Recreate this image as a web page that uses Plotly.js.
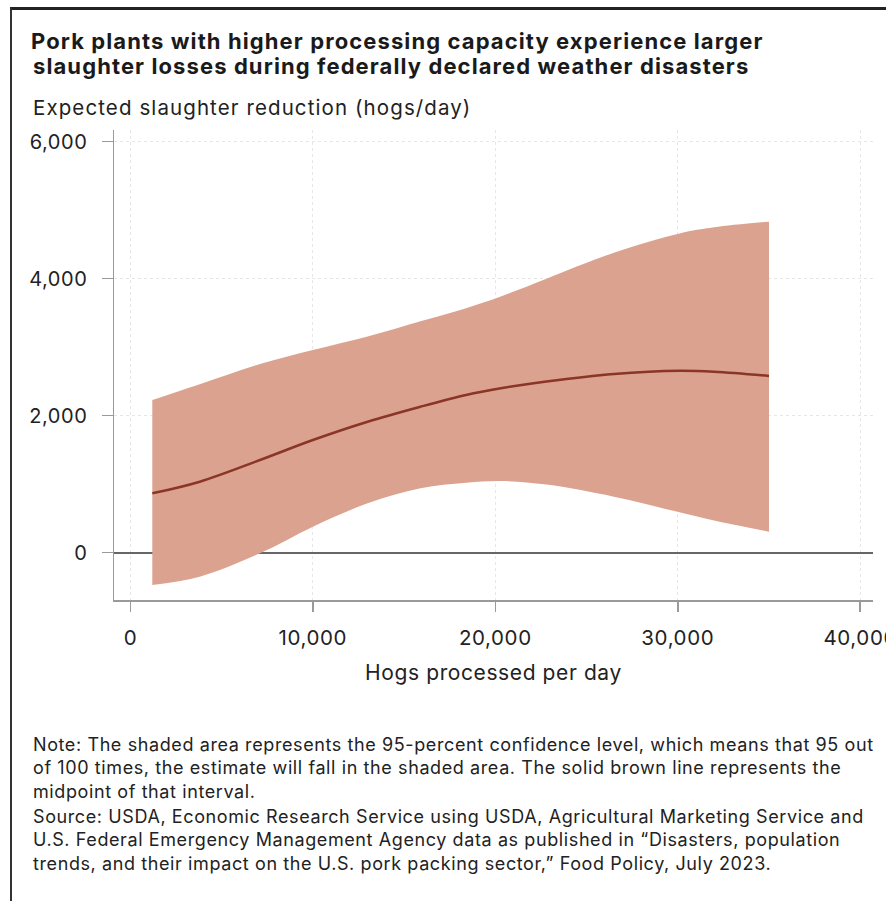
<!DOCTYPE html>
<html>
<head>
<meta charset="utf-8">
<script src="https://cdn.plot.ly/plotly-3.0.1.min.js"></script>
<style>
  html, body { margin: 0; padding: 0; background: #fff; }
  #wrap { position: relative; width: 886px; height: 901px; overflow: hidden; }
  #chart { width: 886px; height: 901px; }
  #frame { position: absolute; left: 10px; top: 7px; width: 876px; height: 894px;
           border-top: 3px solid #222; border-left: 2px solid #333; pointer-events: none; box-sizing: border-box; }
  #chart .gtitle { letter-spacing: 1.1px; }
  #chart g.annotation[data-index="0"] text { letter-spacing: 1.1px; }
  #chart g.annotation[data-index="1"] text { letter-spacing: 1.1px; }
  #chart g.annotation[data-index="2"] text,
  #chart g.annotation[data-index="3"] text { letter-spacing: 0.6px; }
  #chart .xtick text, #chart .ytick text { letter-spacing: 0.6px; }
  #chart .g-xtitle text { letter-spacing: 0.6px; }
</style>
</head>
<body>
<div id="wrap">
  <div id="chart"></div>
  <div id="frame"></div>
</div>
<script>
// Hogs processed per day (x)
const hogsPerDay = [1200, 3800, 7100, 10000, 13000, 15900, 18400, 20300, 22800, 26500, 30100, 32000, 35000];
// Upper bound of 95% confidence interval
const upperCI = [2229, 2460, 2755, 2959, 3157, 3380, 3570, 3740, 4000, 4380, 4661, 4750, 4832];
// Lower bound of 95% confidence interval
const lowerCI = [-472, -350, -9, 380, 721, 940, 1022, 1047, 995, 818, 590, 470, 307];
// Midpoint estimate
const midpoint = [867, 1037, 1353, 1645, 1912, 2131, 2302, 2400, 2500, 2610, 2657, 2642, 2580];

const xTicks = [0, 10000, 20000, 30000, 40000];
const xTickText = ["0", "10,000", "20,000", "30,000", "40,000"];
const yTicks = [0, 2000, 4000, 6000];
const yTickText = ["0", "2,000", "4,000", "6,000"];

const titleLines = [
  "Pork plants with higher processing capacity experience larger",
  "slaughter losses during federally declared weather disasters"
];
const yLabel = "Expected slaughter reduction (hogs/day)";
const xLabel = "Hogs processed per day";
const noteText = "Note: The shaded area represents the 95-percent confidence level, which means that 95 out<br>of 100 times, the estimate will fall in the shaded area. The solid brown line represents the<br>midpoint of that interval.";
const sourceText = "Source: USDA, Economic Research Service using USDA, Agricultural Marketing Service and<br>U.S. Federal Emergency Management Agency data as published in \u201cDisasters, population<br>trends, and their impact on the U.S. pork packing sector,\u201d Food Policy, July 2023.";

const FONT = "Inter, Roboto, 'Noto Sans', Arial, sans-serif";
const bandColor = "#dba28f";
const lineColor = "#8a3526";

// plot area geometry (px) used only to place text in paper coords
const PL = 114, PT = 130, PW = 759, PH = 470;
const px2x = p => (p - PL) / PW;
const py2y = p => (PT + PH - p) / PH;

const traces = [
  { x: hogsPerDay, y: lowerCI, type: "scatter", mode: "lines",
    line: { width: 0, shape: "spline", color: bandColor }, hoverinfo: "skip", showlegend: false },
  { x: hogsPerDay, y: upperCI, type: "scatter", mode: "lines", fill: "tonexty",
    fillcolor: bandColor, line: { width: 0, shape: "spline", color: bandColor }, showlegend: false },
  { x: hogsPerDay, y: midpoint, type: "scatter", mode: "lines",
    line: { width: 2.5, shape: "spline", color: lineColor }, showlegend: false }
];

const layout = {
  width: 886, height: 901,
  margin: { l: PL, r: 886 - PL - PW, t: PT, b: 901 - PT - PH },
  paper_bgcolor: "#fff", plot_bgcolor: "#fff",
  font: { family: FONT, color: "#222" },
  title: {
    text: titleLines[0],
    x: 31 / 886, xref: "container", xanchor: "left",
    y: 1 - 41 / 901, yref: "container", yanchor: "middle",
    font: { size: 22, color: "#1a1a1a", family: FONT, weight: 700 }
  },
  xaxis: {
    range: [-900, 40700],
    tickvals: xTicks, ticktext: xTickText,
    showline: true, linecolor: "#9a9a9a", linewidth: 1.5,
    ticks: "outside", ticklen: 10, tickcolor: "#9a9a9a", tickwidth: 1.5,
    ticklabelstandoff: 9, ticklabeloverflow: "allow",
    showgrid: true, gridcolor: "#e6e6e6", griddash: "dot", gridwidth: 1,
    zeroline: false,
    tickfont: { size: 20.5, color: "#222" },
    title: { text: xLabel, font: { size: 21, color: "#222" }, standoff: 16 },
    fixedrange: true
  },
  yaxis: {
    range: [-690, 6170],
    tickvals: yTicks, ticktext: yTickText,
    showline: true, linecolor: "#9a9a9a", linewidth: 1.5,
    ticks: "outside", ticklen: 11, tickcolor: "#9a9a9a", tickwidth: 1.5,
    ticklabelstandoff: 10,
    showgrid: true, gridcolor: "#e6e6e6", griddash: "dot", gridwidth: 1,
    zeroline: true, zerolinecolor: "#666", zerolinewidth: 2,
    tickfont: { size: 20, color: "#222" },
    fixedrange: true
  },
  annotations: [
    { text: titleLines[1], xref: "paper", yref: "paper", align: "left",
      x: px2x(31), y: py2y(66), xanchor: "left", yanchor: "middle", showarrow: false,
      font: { size: 22, color: "#1a1a1a", weight: 700 } },
    { text: yLabel, xref: "paper", yref: "paper", align: "left",
      x: px2x(31), y: py2y(107), xanchor: "left", yanchor: "middle", showarrow: false,
      font: { size: 20.5, color: "#222" } },
    { text: noteText,
      xref: "paper", yref: "paper", x: px2x(31), y: py2y(732), xanchor: "left", yanchor: "top",
      align: "left", showarrow: false, font: { size: 18, color: "#222" } },
    { text: sourceText,
      xref: "paper", yref: "paper", x: px2x(31), y: py2y(804), xanchor: "left", yanchor: "top",
      align: "left", showarrow: false, font: { size: 18, color: "#222" } }
  ]
};

Plotly.newPlot("chart", traces, layout, { displayModeBar: false, staticPlot: true });
</script>
</body>
</html>
